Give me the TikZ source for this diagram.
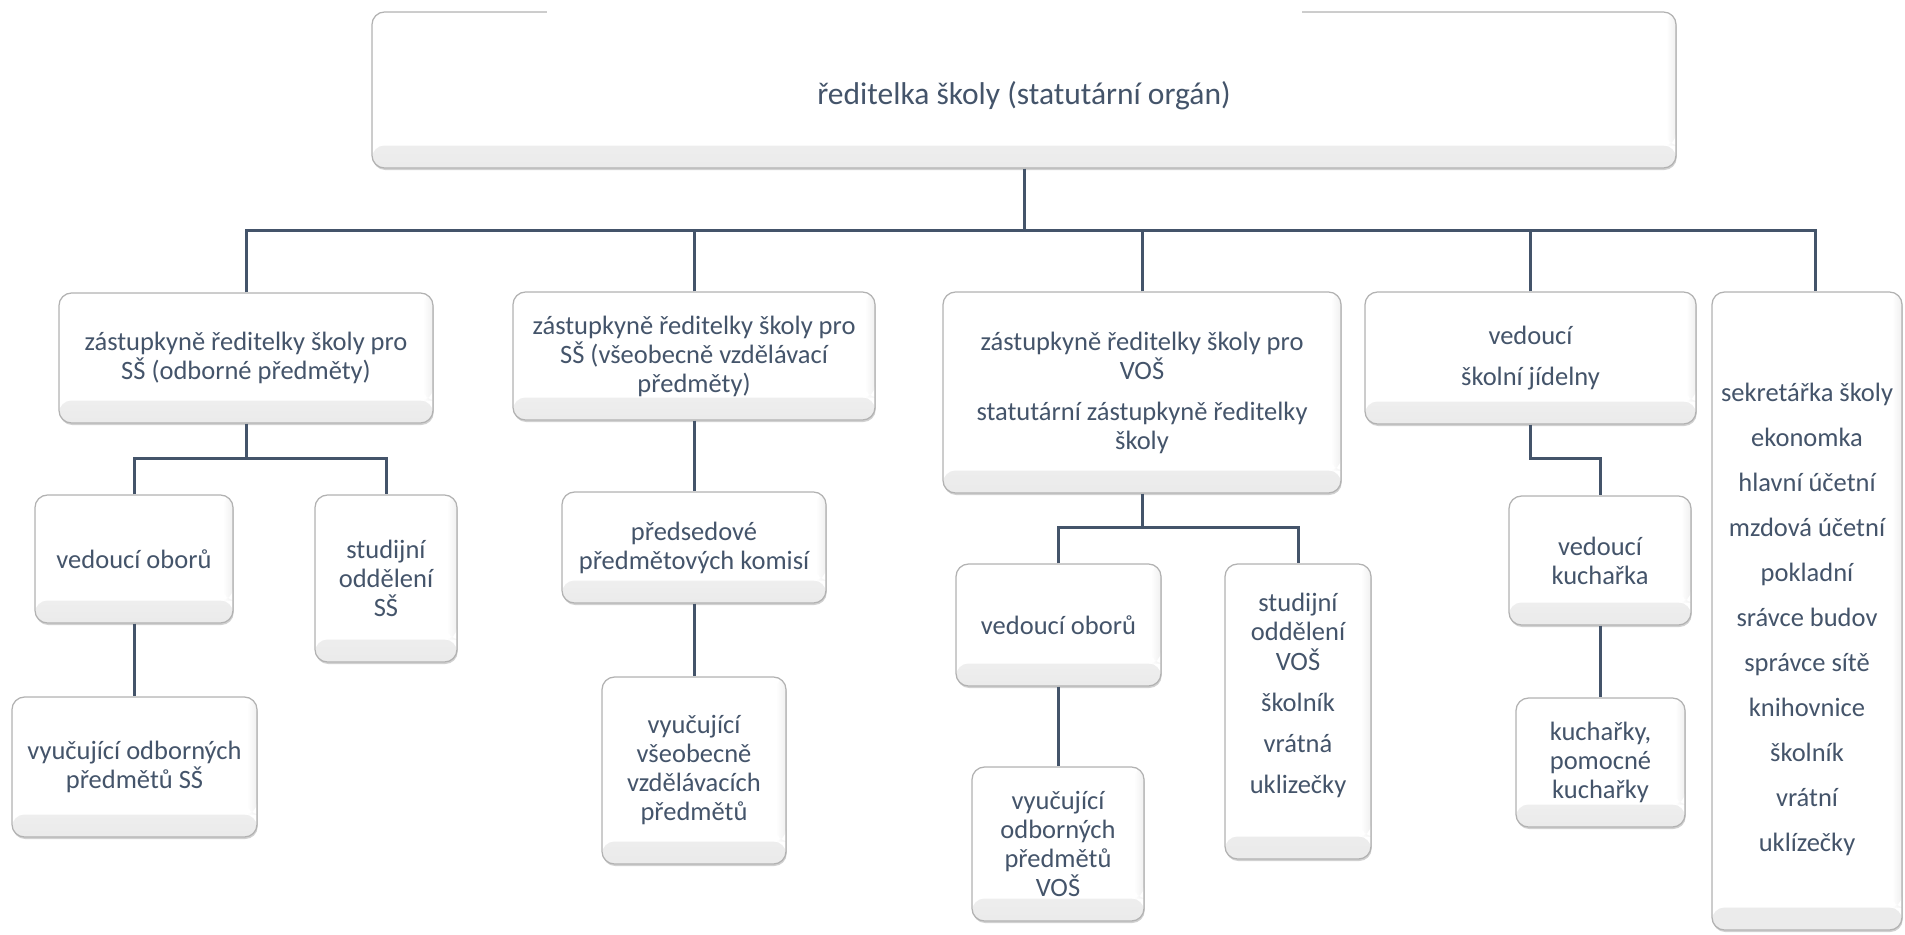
\documentclass[tikz,border=0pt]{standalone}
\usepackage{fontspec}
\setmainfont{Carlito}
\usetikzlibrary{shadows}
\definecolor{tx}{HTML}{44546A}
\newcommand\shiftv[2]{\raisebox{#1}[\height][\depth]{#2}}
\begin{document}
\begin{tikzpicture}[x=0.4pt,y=-0.4pt,
  box/.style={draw=black!30, line width=0.5pt, fill=white, rounded corners=5pt,
    align=center, text=tx, font=\fontsize{10.6}{11.6}\selectfont, inner sep=2pt,
    drop shadow={shadow xshift=0.3pt, shadow yshift=-0.8pt, opacity=0.3, fill=black!60},
    path picture={
      \shade[top color=white, bottom color=black!8]
        ([yshift=9pt]path picture bounding box.south west) rectangle (path picture bounding box.south east);
      \shade[left color=white, right color=black!6]
        ([xshift=-4pt]path picture bounding box.north east) rectangle ([yshift=9pt]path picture bounding box.south east);
    }},
  sz/.style 2 args={minimum width=#1*0.4pt, minimum height=#2*0.4pt},
  conn/.style={draw=tx, line width=1.2pt}]
\useasboundingbox (0,0) rectangle (1905,934);

% top
\node[box, sz={1304}{156}, font=\fontsize{12.6}{14}\selectfont] (T) at (1024,90) {\shiftv{-2.4pt}{ředitelka školy (statutární orgán)}};
\fill[white] (547,4) rectangle (1302,18);

% level 1
\node[box, sz={374}{130}] (A) at (246,358) {zástupkyně ředitelky školy pro\\SŠ (odborné předměty)};
\node[box, sz={362}{128}] (B) at (694,356) {zástupkyně ředitelky školy pro\\SŠ (všeobecně vzdělávací\\předměty)};
\node[box, sz={398}{201}] (C) at (1142,392.5) {zástupkyně ředitelky školy pro\\VOŠ\\[4.8pt]statutární zástupkyně ředitelky\\školy};
\node[box, sz={331}{132}] (D) at (1530.5,358) {vedoucí\\[4.8pt]školní jídelny};
\node[box, sz={190}{638}] (E) at (1807,611) {\shiftv{-4pt}{\begin{tabular}{@{}c@{}}sekretářka školy\\[6.4pt]ekonomka\\[6.4pt]hlavní účetní\\[6.4pt]mzdová účetní\\[6.4pt]pokladní\\[6.4pt]srávce budov\\[6.4pt]správce sítě\\[6.4pt]knihovnice\\[6.4pt]školník\\[6.4pt]vrátní\\[6.4pt]uklízečky\end{tabular}}};

% level 2+
\node[box, sz={198}{128}] (A1) at (134,559) {vedoucí oborů};
\node[box, sz={142}{167}] (A2) at (386,578.5) {studijní\\oddělení\\SŠ};
\node[box, sz={245}{140}] (A11) at (134.5,767) {vyučující odborných\\předmětů SŠ};
\node[box, sz={264}{111}] (B1) at (694,547.5) {předsedové\\předmětových komisí};
\node[box, sz={184}{187}] (B11) at (694,770.5) {vyučující\\všeobecně\\vzdělávacích\\předmětů};
\node[box, sz={205}{122}] (C1) at (1058.5,625) {vedoucí oborů};
\node[box, sz={146}{295}] (C2) at (1298,711.5) {\shiftv{6pt}{\begin{tabular}{@{}c@{}}studijní\\oddělení\\VOŠ\\[4.8pt]školník\\[4.8pt]vrátná\\[4.8pt]uklizečky\end{tabular}}};
\node[box, sz={172}{154}] (C11) at (1058,844) {vyučující\\odborných\\předmětů\\VOŠ};
\node[box, sz={182}{129}] (D1) at (1600,560.5) {vedoucí\\kuchařka};
\node[box, sz={169}{129}] (D11) at (1600.5,762.5) {kuchařky,\\pomocné\\kuchařky};

% connectors
\coordinate (bus) at (0,230);
\coordinate (abus) at (0,458);
\coordinate (cbus) at (0,527);
\coordinate (dbus) at (0,458);
\draw[conn] (T.south) -- (T.south |- bus);
\draw[conn] (A.north) |- ([xshift=3.2pt]E.north |- bus) -- ([xshift=3.2pt]E.north);
\draw[conn] (B.north) -- (B.north |- bus);
\draw[conn] (C.north) -- (C.north |- bus);
\draw[conn] (D.north) -- (D.north |- bus);

\draw[conn] (A.south) -- (A.south |- abus);
\draw[conn] (A1.north) |- (A2.north |- abus) -- (A2.north);
\draw[conn] (A1.south) -- (A1.south |- A11.north);

\draw[conn] (B.south) -- (B1.north);
\draw[conn] (B1.south) -- (B11.north);

\draw[conn] (C.south) -- (C.south |- cbus);
\draw[conn] (C1.north) |- (C2.north |- cbus) -- (C2.north);
\draw[conn] (C1.south) -- (C1.south |- C11.north);

\draw[conn] (D.south) |- (D1.north |- dbus) -- (D1.north);
\draw[conn] (D1.south) -- (D1.south |- D11.north);
\end{tikzpicture}
\end{document}
